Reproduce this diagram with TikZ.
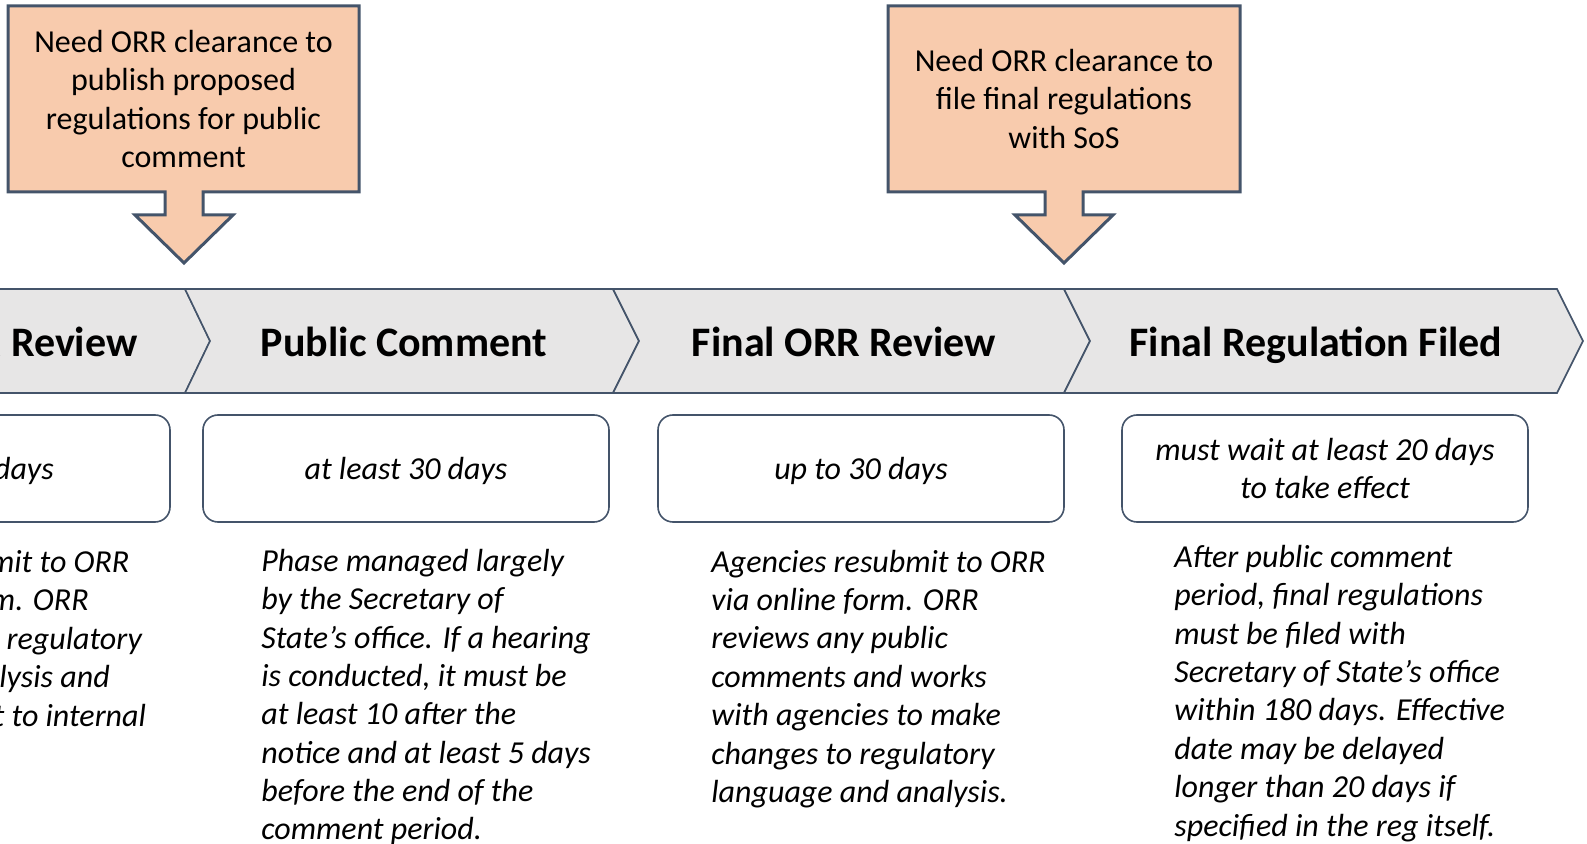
\documentclass[tikz,border=0pt]{standalone}
\usepackage{fontspec}
\setmainfont{Carlito}
\usepackage{tikz}
\definecolor{calloutorange}{RGB}{248,203,173}
\definecolor{slateblue}{RGB}{68,84,106}
\definecolor{bandgray}{RGB}{231,230,230}

\begin{document}
\begin{tikzpicture}[x=0.5pt,y=-0.5pt,
  phase/.style={font=\fontsize{21}{25}\selectfont\bfseries,inner sep=0pt,anchor=base},
  durbox/.style={draw=slateblue,line width=0.8pt,fill=white,rounded corners=7.5pt,
    minimum width=203pt,minimum height=53.5pt,inner sep=0pt,align=center,text depth=0pt,
    font=\fontsize{16}{19.2}\selectfont\itshape},
  notes/.style={inner sep=0pt,anchor=base west,align=left,
    font=\fontsize{16}{19.2}\selectfont\itshape},
  callout/.style={draw=slateblue,line width=1.5pt,fill=calloutorange,line join=miter},
  chevron/.style={draw=slateblue,line width=0.8pt,fill=bandgray,line join=miter}]
\clip (0,0) rectangle (1587,844);
% Draw the chevron band
\draw[chevron] (-260,289) -- (185,289) -- (210,341) -- (185,393) -- (-260,393) -- cycle;
\draw[chevron] (185,289) -- (613,289) -- (639,341) -- (613,393) -- (185,393) -- (210,341) -- cycle;
\draw[chevron] (613,289) -- (1064,289) -- (1090,341) -- (1064,393) -- (613,393) -- (639,341) -- cycle;
\draw[chevron] (1064,289) -- (1557,289) -- (1583,341) -- (1557,393) -- (1064,393) -- (1090,341) -- cycle;
% Phase titles
\node[phase] (reviewhead) at (-23,357) {Initial ORR Review};
\node[phase] (commenthead) at (404,357) {Public Comment};
\node[phase] (finalhead) at (844,357) {Final ORR Review};
\node[phase] (filedhead) at (1316,357) {Final Regulation Filed};
% Draw the clearance callouts
\draw[callout] (8,6) -- (359,6) -- (359,192) -- (203,192) -- (203,215) -- (233,215)
  -- (184,263) -- (135,215) -- (165,215) -- (165,192) -- (8,192) -- cycle;
\draw[callout] (888,6) -- (1240,6) -- (1240,192) -- (1083,192) -- (1083,215) -- (1113,215)
  -- (1064,263) -- (1015,215) -- (1045,215) -- (1045,192) -- (888,192) -- cycle;
\node[align=center,font=\fontsize{16}{19.2}\selectfont] (proposedclear) at (183.5,99)
  {Need ORR clearance to\\publish proposed\\regulations for public\\comment};
\node[align=center,font=\fontsize{16}{19.2}\selectfont] (finalclear) at (1064,99)
  {Need ORR clearance to\\file final regulations\\with SoS};
% Duration boxes
\node[durbox] (reviewdays) at (-33,468.5) {up to 30 days};
\node[durbox] (commentdays) at (406,468.5) {at least 30 days};
\node[durbox] (finaldays) at (861,468.5) {up to 30 days};
\node[durbox] (fileddays) at (1325,468.5) {must wait at least 20 days\\to take effect};
% Phase notes (anchored at the last line)
\node[notes] (reviewnotes) at (-179,726) {Agencies submit to ORR\\via online form. ORR\\reviews initial regulatory\\language analysis and\\and submits it to internal};
\node[notes] (commentnotes) at (261,840) {Phase managed largely\\by the Secretary of\\State’s office. If a hearing\\is conducted, it must be\\at least 10 after the\\notice and at least 5 days\\before the end of the\\comment period.};
\node[notes] (finalnotes) at (711,802.5) {Agencies resubmit to ORR\\via online form. ORR\\reviews any public\\comments and works\\with agencies to make\\changes to regulatory\\language and analysis.};
\node[notes] (filednotes) at (1174,836) {After public comment\\period, final regulations\\must be filed with\\Secretary of State’s office\\within 180 days. Effective\\date may be delayed\\longer than 20 days if\\specified in the reg itself.};
\end{tikzpicture}
\end{document}
